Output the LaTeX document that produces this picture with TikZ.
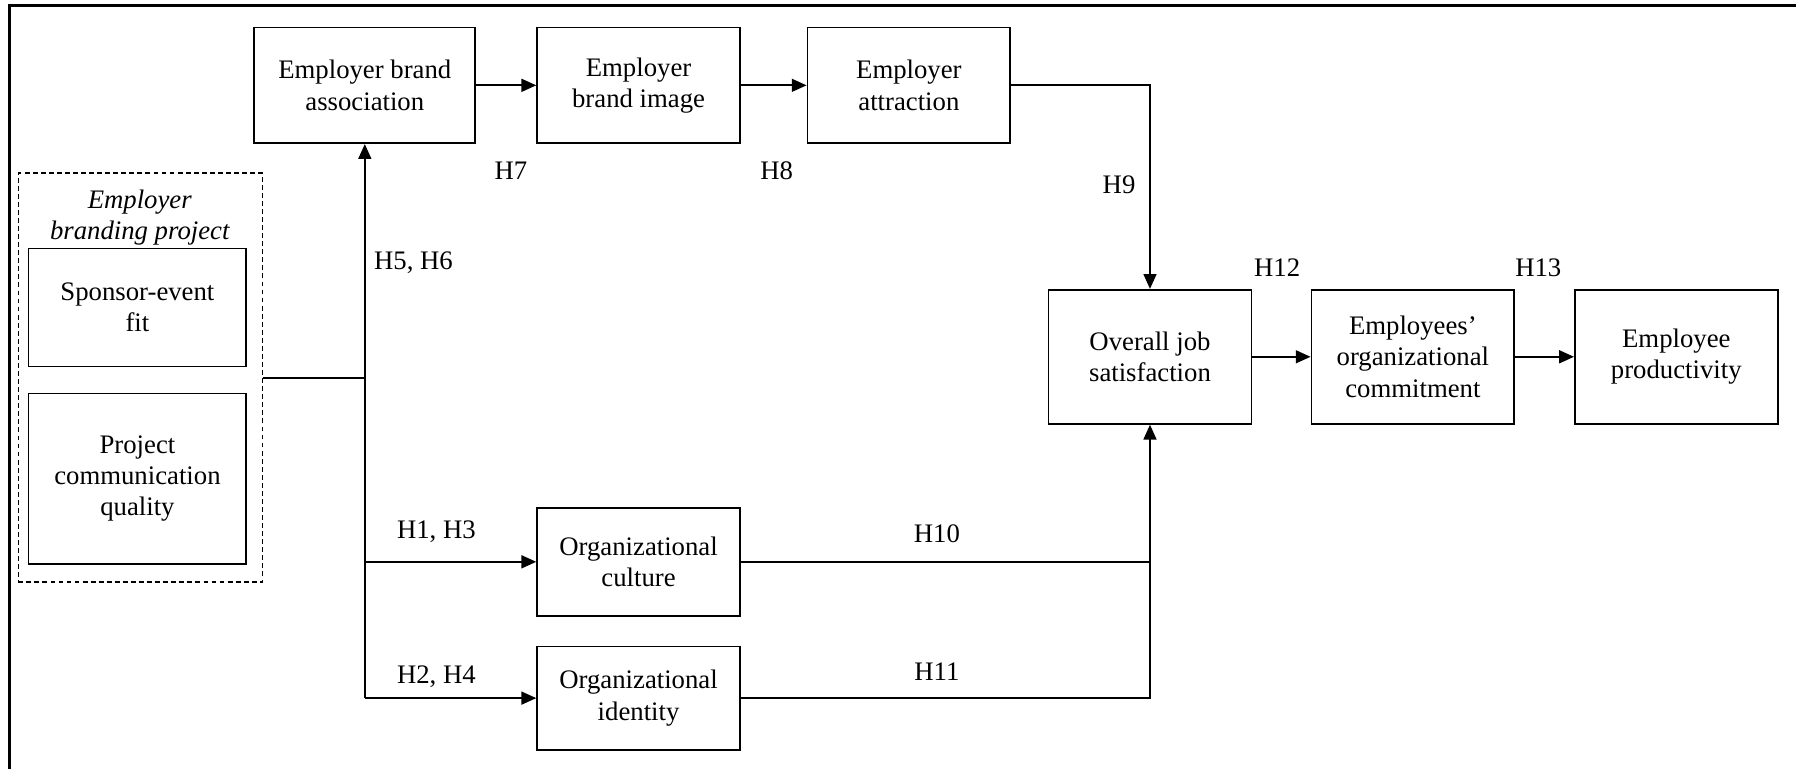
\documentclass[tikz,border=0pt]{standalone}
\usepackage{fontspec}
\setmainfont{Liberation Serif}
\usetikzlibrary{arrows.meta}
\tikzset{
  box/.style={draw, line width=0.55pt, align=center, inner sep=1pt,
    minimum width=2.2125cm, minimum height=1.2625cm},
  hyp/.style={inner sep=0pt},
  arr/.style={-{Triangle[length=4.6pt,width=4pt]}},
}
\begin{document}
\begin{tikzpicture}[x=0.0125cm,y=-0.0125cm,line width=0.55pt,
    font=\fontsize{8.3pt}{9.7pt}\selectfont]
  \useasboundingbox (0,0) rectangle (1568,671);
  \draw[line width=0.9pt] (8,671) -- (8,4.5) -- (1568,4.5);
  % top row
  \node[box, minimum width=2.4125cm] (eba) at (318.5,74.5) {Employer brand\\association};
  \node[box] (ebi) at (557.5,74.5) {Employer\\brand image};
  \node[box] (ea) at (793.5,74.5) {Employer\\attraction};
  % employer branding project
  \node[draw, dashed, line width=0.4pt, dash pattern=on 1.5pt off 1pt,
    minimum width=2.6625cm, minimum height=4.4625cm] (grp) at (122.5,329.5) {};
  \node[hyp, align=center, font=\fontsize{8.3pt}{9.4pt}\selectfont\itshape] (grplbl) at (122,190) {Employer\\branding project};
  \node[box, minimum width=2.375cm, minimum height=1.2875cm] (sef) at (120,268.5) {Sponsor-event\\fit};
  \node[box, minimum width=2.375cm, minimum height=1.8625cm] (pcq) at (120,418) {Project\\communication\\quality};
  % middle row
  \node[box, minimum height=1.175cm] (oc) at (557.5,490.5) {Organizational\\culture};
  \node[box, minimum height=1.125cm] (oi) at (557.5,609.5) {Organizational\\identity};
  % right row
  \node[box, minimum height=1.4625cm] (ojs) at (1004,311.5) {Overall job\\satisfaction};
  \node[box, minimum height=1.4625cm] (eoc) at (1233.5,311.5) {Employees'\\organizational\\commitment};
  \node[box, minimum height=1.4625cm] (ep) at (1463.5,311.5) {Employee\\productivity};
  % junctions
  \coordinate (jn) at (318.5,330);
  \coordinate (jc) at (318.5,490.5);
  \coordinate (ji) at (318.5,609.5);
  % connectors
  \draw[arr] (eba) -- (ebi);
  \draw[arr] (ebi) -- (ea);
  \draw[arr] (ea.east) -| (ojs.north);
  \draw (grp.east |- jn) -- (jn);
  \draw[arr] (ji) -- (eba.south);
  \draw[arr] (jc) -- (oc.west);
  \draw[arr] (ji) -- (oi.west);
  \draw (oc.east) -- (oc.east -| ojs.south);
  \draw[arr] (oi.east) -| (ojs.south);
  \draw[arr] (ojs) -- (eoc);
  \draw[arr] (eoc) -- (ep);
  % hypotheses
  \node[hyp] (h7) at (446,149) {H7};
  \node[hyp] (h8) at (678,149) {H8};
  \node[hyp] (h9) at (977,161) {H9};
  \node[hyp] (h56) at (361,229.5) {H5, H6};
  \node[hyp] (h13a) at (381,464.5) {H1, H3};
  \node[hyp] (h24) at (381,591) {H2, H4};
  \node[hyp] (h10) at (818,466) {H10};
  \node[hyp] (h11) at (818,586.5) {H11};
  \node[hyp] (h12) at (1115,234) {H12};
  \node[hyp] (h13) at (1343,234) {H13};
\end{tikzpicture}
\end{document}
